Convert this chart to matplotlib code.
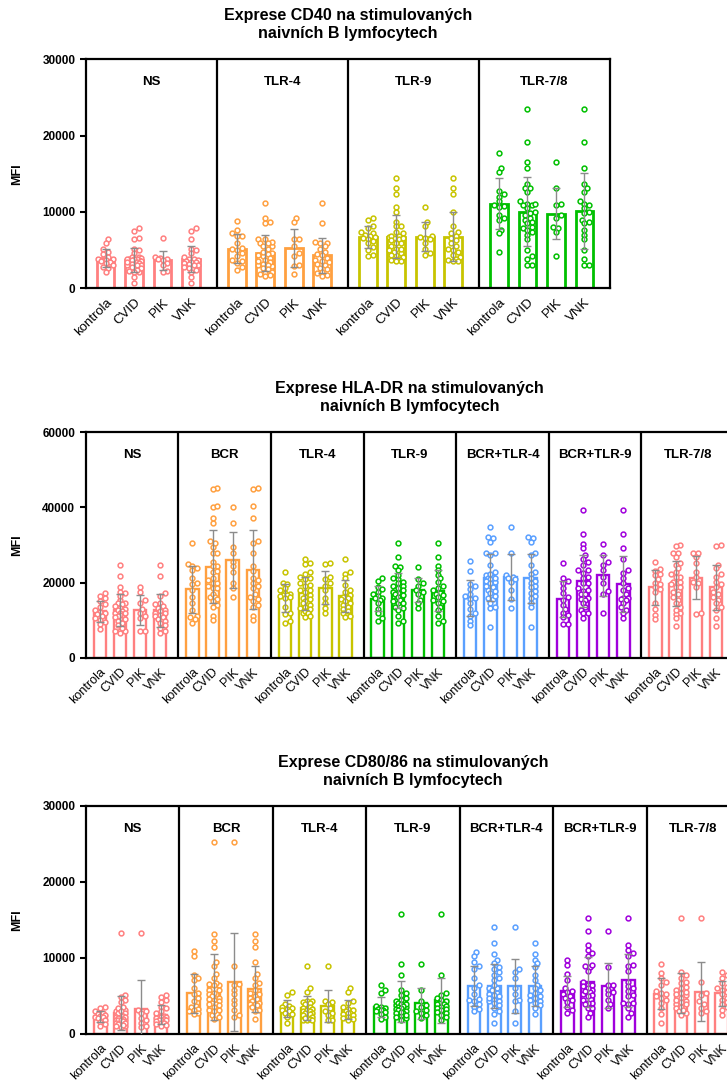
import numpy as np
import matplotlib.pyplot as plt

plt.rcParams['font.family'] = ['Liberation Sans', 'DejaVu Sans']

groups = ['kontrola', 'CVID', 'PIK', 'VNK']
colors = ['#FF8080', '#FFA040', '#C8C400', '#00C000', '#5AA0FF', '#A000DC', '#FF8080']

# ---- Exprese CD40 ----
cd40_stims = ['NS', 'TLR-4', 'TLR-9', 'TLR-7/8']
cd40_kontrola = [
    [6400, 5900, 5200, 4800, 4500, 4100, 3900, 3800, 3700, 3600, 3500, 3300, 3000, 2800, 2600, 2100],
    [8800, 7600, 7200, 6900, 6800, 6000, 5300, 5100, 5000, 4600, 4200, 3700, 3600, 3300, 2800, 2400],
    [9200, 8900, 8200, 7900, 7400, 7300, 7000, 6800, 6700, 6600, 6500, 6200, 5900, 5400, 5000, 4400, 4200],
    [17700, 15800, 15300, 12700, 12400, 12000, 11400, 10900, 10800, 10700, 9600, 9200, 9000, 7700, 7200, 4700],
]
cd40_pik = [
    [6600, 4100, 4000, 3900, 3800, 3700, 3300, 3000, 2300, 2200],
    [9200, 8700, 6500, 6400, 5500, 4600, 4200, 3000, 2900, 1900],
    [10700, 8700, 8200, 6900, 6700, 6600, 6400, 6000, 5200, 4600, 4300],
    [16500, 13100, 11100, 10900, 9600, 9200, 8000, 7900, 7400, 4200],
]
cd40_vnk = [
    [7900, 7550, 6400, 5200, 5000, 4600, 4100, 3900, 3800, 3700, 3600, 3500, 3400, 3300, 3200, 3100,
     3000, 2800, 2600, 2400, 2100, 1500, 750],
    [11200, 8600, 6100, 6000, 5900, 5500, 5200, 4800, 4500, 4300, 4000, 3700, 3600, 3400, 3200, 3000,
     2700, 2500, 2200, 2000, 1800, 1600],
    [14400, 13100, 12400, 10000, 8100, 7400, 7200, 6900, 6600, 6300, 5900, 5500, 5200, 5000, 4700, 4300,
     4100, 3800, 3700, 3600, 3600],
    [23500, 19200, 15700, 13700, 13100, 12600, 11400, 11100, 10900, 10500, 10000, 9800, 9000, 8700, 8500,
     7600, 7000, 6400, 5000, 3800, 3100, 3000],
]

# ---- Exprese HLA-DR ----
hla_stims = ['NS', 'BCR', 'TLR-4', 'TLR-9', 'BCR+TLR-4', 'BCR+TLR-9', 'TLR-7/8']
hla_kontrola = [
    [17300, 16500, 15800, 15000, 14300, 13500, 12600, 12200, 11800, 11500, 11000, 10500, 10100, 9600, 9000, 7600],
    [30600, 25000, 24500, 24000, 23300, 21100, 19800, 19500, 18000, 16100, 14500, 12700, 11200, 10800, 10200, 9200],
    [22900, 20000, 19500, 18500, 18000, 17300, 17000, 16800, 16600, 16500, 16200, 16000, 13600, 12000, 11500, 9700, 9300],
    [21100, 20400, 18900, 18200, 17600, 17000, 16400, 16000, 15800, 15400, 14500, 12900, 11800, 10500, 9800],
    [25800, 23200, 19500, 19000, 18300, 17000, 16300, 16000, 15700, 14500, 13000, 11800, 11000, 9900, 8700],
    [25100, 21100, 20500, 19800, 18500, 17300, 16200, 15400, 14000, 12900, 12000, 11400, 10900, 9100, 8900],
    [25600, 23500, 23200, 22400, 22000, 20900, 20000, 19500, 18900, 18200, 17600, 14500, 12900, 11400, 10200],
]
hla_pik = [
    [18700, 17600, 15300, 14500, 12900, 12000, 11000, 10500, 7200, 7000],
    [40000, 35800, 29500, 27800, 25600, 24500, 22900, 19800, 18500, 16200],
    [25200, 25000, 21600, 21000, 19800, 19200, 18000, 16000, 14500, 13100, 11800],
    [24200, 20900, 19800, 19200, 18000, 17500, 17000, 15400, 14500, 13100],
    [34900, 28000, 22000, 21600, 21200, 20900, 20200, 18000, 15500, 13100],
    [30200, 27300, 25500, 24700, 23300, 21600, 19800, 17800, 17000, 12000],
    [28000, 27800, 26900, 25100, 22900, 21600, 20200, 19800, 18900, 11800, 11600],
]
hla_vnk = [
    [24800, 21700, 17300, 16500, 14500, 14200, 13800, 13200, 12800, 12300, 12000, 11800, 11300, 11000,
     10800, 10300, 9800, 9300, 8600, 8000, 7200, 6500],
    [45200, 45000, 40500, 37100, 31100, 30400, 27800, 24400, 23000, 21100, 20600, 19800, 19000, 18500,
     17000, 16200, 15600, 15200, 14000, 13500, 11100, 10000],
    [26400, 22900, 22400, 21100, 19300, 18000, 17500, 16700, 16200, 16000, 15500, 15000, 14500, 14000,
     13600, 12900, 12500, 11800, 11000, 10800],
    [30600, 26700, 24400, 23300, 22000, 21100, 20200, 19100, 18500, 18000, 17300, 17000, 16700, 16100,
     15400, 15000, 14600, 13600, 12700, 11000, 9900, 9300],
    [32200, 31800, 30900, 28000, 27300, 24700, 22900, 22300, 21100, 20500, 19800, 19000, 18700, 17800,
     17100, 16500, 15800, 14600, 13400, 8100],
    [39300, 32800, 29100, 26400, 23300, 22500, 21100, 19800, 18500, 18000, 17000, 16000, 16000, 15500,
     15400, 14500, 13400, 12700, 11800, 10700],
    [30000, 29700, 24700, 23800, 22400, 21600, 20200, 19500, 18900, 17600, 17000, 16200, 15400, 14500,
     13400, 12700, 10500, 8400],
]

# ---- Exprese CD80/86 ----
cd80_stims = ['NS', 'BCR', 'TLR-4', 'TLR-9', 'BCR+TLR-4', 'BCR+TLR-9', 'TLR-7/8']
cd80_kontrola = [
    [3600, 3400, 3000, 2800, 2600, 2500, 2400, 2300, 2200, 2100, 1900, 1600, 1300, 1000],
    [10900, 10200, 7700, 7400, 7100, 6000, 5400, 5200, 4700, 4300, 3700, 3500, 3300, 3100, 3000, 2800, 2600],
    [5500, 5100, 3900, 3700, 3500, 3400, 3300, 3100, 3000, 2800, 2600, 2300, 1400],
    [6400, 5800, 5400, 3700, 3500, 3400, 3300, 3200, 3100, 3000, 2900, 2600, 2300, 2000],
    [10800, 10300, 9500, 8900, 8600, 7400, 6500, 6100, 5200, 4600, 4500, 4300, 4000, 3600, 3300, 3000],
    [9800, 9100, 7900, 7100, 6000, 5700, 5500, 5200, 5000, 4700, 4500, 4200, 3600, 3200, 2800],
    [9200, 8000, 7400, 6800, 6400, 5600, 5400, 5200, 5000, 4800, 4500, 4100, 3400, 2600, 1400],
]
cd80_pik = [
    [13300, 3200, 3000, 2700, 2100, 1800, 1500, 1000, 900],
    [25300, 9000, 6600, 6500, 5800, 5200, 4500, 3900, 3200, 2500, 2200],
    [9000, 4400, 4200, 3900, 3400, 3000, 2800, 2500, 1900, 1800],
    [9200, 5800, 4300, 3800, 3500, 3200, 3000, 2800, 2500, 2100],
    [14100, 8500, 8200, 7400, 6000, 5200, 4500, 4300, 3000, 1400],
    [13500, 8800, 6500, 6400, 5800, 5500, 5200, 4500, 3900, 3400],
    [15300, 6800, 5400, 5100, 4300, 3900, 3400, 3000, 2800],
]
cd80_vnk = [
    [5100, 4900, 4500, 4200, 3600, 3400, 3000, 2700, 2400, 2300, 2200, 2100, 2000, 1900, 1800, 1800,
     1700, 1500, 1500, 1300, 1200, 1000],
    [13100, 12200, 11500, 9500, 7900, 7400, 6700, 6400, 5800, 5400, 5200, 5000, 4800, 4600, 4300, 4100,
     4000, 3900, 3800, 3500, 3200, 3000, 2000],
    [6000, 5500, 4400, 4100, 3500, 3300, 3200, 3000, 2800, 2700, 2600, 2500, 2300, 2100, 2000, 1800],
    [15800, 7700, 5400, 5100, 4800, 4500, 4300, 4100, 4000, 3900, 3700, 3600, 3400, 3300, 3100, 2900,
     2800, 2500, 2200, 1900],
    [12000, 10500, 9800, 9300, 8800, 7800, 7100, 6500, 6000, 5800, 5400, 5100, 5000, 4800, 4500, 4400,
     4100, 3800, 3400, 2600],
    [15200, 11700, 11000, 10700, 10300, 9100, 8900, 8300, 6900, 6300, 6000, 5600, 5100, 5000, 4100, 4100,
     4000, 3400, 2800, 2300],
    [8200, 7800, 7400, 6700, 6200, 6000, 5800, 5500, 5200, 4800, 4500, 4200, 3900, 3600, 3200, 2500],
]

FIG_W, FIG_H = 727, 1086
PANEL = 4.6
OFFSET = 0.7


def swarm(vals, xpx, ypx, d=4.0, maxw=7.0):
    """simple beeswarm: horizontal offsets (data units) so circles don't overlap too much"""
    vals = np.asarray(vals, float)
    order = np.argsort(vals)
    placed = []
    offs = np.zeros(len(vals))
    cands = [0.0]
    step = d * 0.6
    k = 1
    while k * step <= maxw:
        cands += [k * step, -k * step]
        k += 1
    for idx in order:
        y = vals[idx] * ypx
        best, best_d = 0.0, -1
        for c in cands:
            if placed:
                md = min(np.hypot(c - px, y - py) for px, py in placed)
            else:
                md = 1e9
            if md >= d:
                best = c
                break
            if md > best_d:
                best, best_d = c, md
        placed.append((best, y))
        offs[idx] = best / xpx
    return offs


def draw_chart(rect, stims, kontrola, pik, vnk, ymax, ystep, title, lw_bar, lab_size, spread):
    ax = fig.add_axes(rect)
    n = len(stims)
    xmax = n * PANEL
    ax.set_xlim(0, xmax)
    ax.set_ylim(0, ymax)
    xpx = rect[2] * FIG_W / xmax
    ypx = rect[3] * FIG_H / ymax

    xt, xl = [], []
    for i, st in enumerate(stims):
        c = colors[i]
        data = [kontrola[i], pik[i] + vnk[i], pik[i], vnk[i]]
        for j, vals in enumerate(data):
            x = i * PANEL + OFFSET + j
            vals = np.array(vals, float)
            m = vals.mean()
            sd = vals.std(ddof=1)
            ax.bar(x, m, width=0.62, facecolor='white', edgecolor=c, linewidth=lw_bar, zorder=2)
            ax.scatter(x + swarm(vals, xpx, ypx, maxw=spread), vals, s=12, facecolors='white',
                       edgecolors=c, linewidths=1.1, zorder=3)
            ax.errorbar(x, m, yerr=sd, fmt='none', ecolor='#8c8c8c', elinewidth=1.0, capsize=3,
                        capthick=1.0, zorder=4)
            xt.append(x)
            xl.append(groups[j])
        if i > 0:
            ax.axvline(i * PANEL, color='black', lw=1.6, zorder=5)
        ax.text(i * PANEL + PANEL / 2, 0.9, st, transform=ax.get_xaxis_transform(),
                ha='center', va='center', fontsize=9.5, fontweight='bold')

    ax.set_xticks(xt)
    ax.set_xticklabels(xl, rotation=45, ha='right', rotation_mode='anchor', fontsize=lab_size)
    ax.tick_params(axis='x', length=0, pad=6)
    ax.set_yticks(np.arange(0, ymax + 1, ystep))
    ax.tick_params(axis='y', length=4, width=1.5, direction='out', labelsize=8.5)
    for t in ax.get_yticklabels():
        t.set_fontweight('bold')
    for sp in ax.spines.values():
        sp.set_linewidth(1.6)
    ax.set_ylabel('MFI', fontsize=9, fontweight='bold')
    ax.yaxis.set_label_coords(-63.0 / (rect[2] * FIG_W), 0.5)
    ax.set_title(title, fontsize=11.5, fontweight='bold', pad=15, linespacing=1.3)
    return ax


fig = plt.figure(figsize=(FIG_W / 100, FIG_H / 100), dpi=100)

draw_chart([85.7 / FIG_W, 1 - 288.3 / FIG_H, 524.3 / FIG_W, 229.0 / FIG_H],
           cd40_stims, cd40_kontrola, cd40_pik, cd40_vnk, 30000, 10000,
           'Exprese CD40 na stimulovaných\nnaivních B lymfocytech', 2.0, 9.5, 7.5)
draw_chart([85.7 / FIG_W, 1 - 657.7 / FIG_H, 648.3 / FIG_W, 225.4 / FIG_H],
           hla_stims, hla_kontrola, hla_pik, hla_vnk, 60000, 20000,
           'Exprese HLA-DR na stimulovaných\nnaivních B lymfocytech', 1.7, 9, 6.0)
draw_chart([86.0 / FIG_W, 1 - 1034.0 / FIG_H, 654.0 / FIG_W, 228.0 / FIG_H],
           cd80_stims, cd80_kontrola, cd80_pik, cd80_vnk, 30000, 10000,
           'Exprese CD80/86 na stimulovaných\nnaivních B lymfocytech', 1.7, 9, 6.0)

fig.savefig('out.png', dpi=100)
